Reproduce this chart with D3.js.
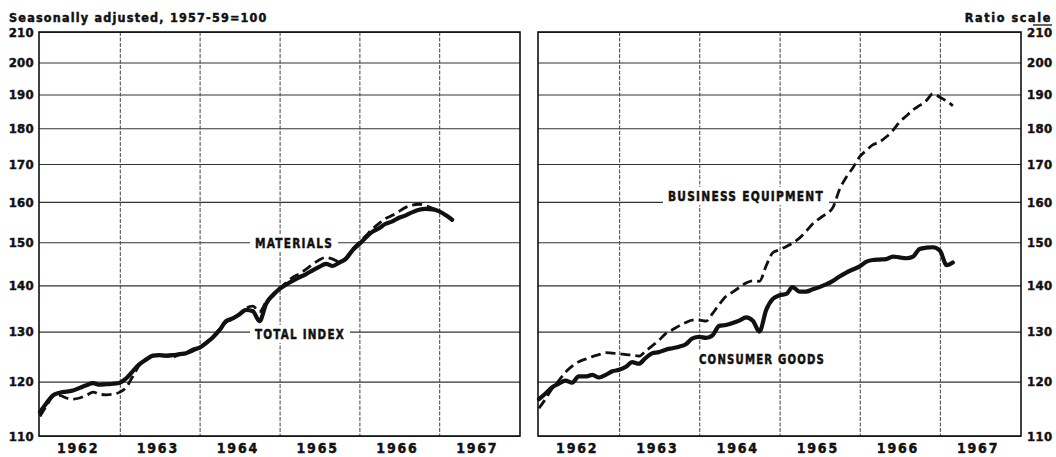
<!DOCTYPE html>
<html>
<head>
<meta charset="utf-8">
<script src="https://cdn.jsdelivr.net/npm/d3@7"></script>
<style>
  body { margin: 0; background: #fff; }
  svg text { font-family: "DejaVu Sans Condensed", "Liberation Sans Narrow", sans-serif; font-weight: bold; fill: #111; stroke: #111; stroke-width: 0.45px; }
</style>
</head>
<body>
<script>
// Monthly, Jan 1962 - Mar 1967, seasonally adjusted, 1957-59=100
const years = [1962, 1963, 1964, 1965, 1966, 1967];
const yTicks = [110, 120, 130, 140, 150, 160, 170, 180, 190, 200, 210];

const totalIndex = [114.3, 116.0, 117.4, 117.9, 118.1, 118.3, 118.8, 119.3, 119.7, 119.4, 119.5, 119.6,
  119.8, 120.7, 122.0, 123.4, 124.3, 125.1, 125.2, 125.1, 125.2, 125.4, 125.6, 126.3,
  126.7, 127.7, 128.8, 130.3, 132.2, 132.8, 133.6, 134.6, 134.3, 132.2, 136.0, 137.8,
  139.2, 140.2, 141.0, 141.8, 142.5, 143.4, 144.2, 144.9, 144.4, 145.2, 146.1, 148.1,
  149.6, 151.2, 152.5, 153.4, 154.5, 155.1, 156.0, 156.6, 157.4, 158.0, 158.2, 158.1,
  157.6, 156.6, 155.5];

const materials = [113.5, 115.5, 117.2, 117.4, 116.9, 116.7, 116.9, 117.4, 118.0, 117.6, 117.5, 117.6,
  118.0, 119.0, 121.0, 123.2, 124.2, 125.0, 125.1, 125.0, 124.8, 125.3, 125.5, 126.0,
  126.8, 127.8, 128.9, 130.5, 132.0, 132.6, 133.8, 135.0, 135.4, 134.2, 136.4, 138.0,
  139.4, 140.6, 141.8, 142.6, 143.6, 144.8, 145.8, 146.4, 146.0, 145.4, 146.4, 148.4,
  150.0, 151.6, 153.2, 154.6, 155.8, 156.6, 157.6, 158.6, 159.2, 159.4, 159.0, 158.4,
  157.6, 156.6, 155.6];

const consumerGoods = [116.7, 117.8, 118.9, 119.6, 120.2, 119.8, 121.0, 121.0, 121.3, 120.8, 121.3, 122.0,
  122.3, 122.9, 123.8, 123.5, 124.6, 125.6, 125.8, 126.3, 126.6, 126.9, 127.4, 128.6,
  128.9, 128.7, 129.2, 131.2, 131.4, 131.8, 132.3, 133.0, 132.3, 130.0, 134.6, 137.0,
  137.8, 138.1, 139.6, 138.6, 138.6, 139.1, 139.6, 140.2, 141.0, 142.0, 142.9, 143.6,
  144.3, 145.4, 145.8, 145.9, 146.0, 146.6, 146.4, 146.2, 146.6, 148.4, 148.7, 148.8,
  148.0, 144.6, 145.2];

const businessEquipment = [115.0, 116.8, 118.6, 120.2, 121.8, 123.0, 123.9, 124.4, 124.9, 125.3, 125.7, 125.6,
  125.5, 125.3, 125.2, 125.0, 126.0, 127.1, 128.2, 129.6, 130.4, 131.2, 131.9, 132.4,
  132.4, 132.2, 133.8, 135.8, 137.5, 138.5, 139.5, 140.5, 141.0, 140.9, 144.5, 147.5,
  148.2, 149.0, 149.8, 151.0, 152.6, 154.5, 155.8, 157.0, 158.6, 163.2, 166.5, 169.0,
  172.0, 173.8, 175.3, 176.1, 177.5, 179.4, 181.8, 183.6, 185.4, 186.7, 188.2, 190.3,
  189.2, 188.0, 186.6];

const months = totalIndex.map((d, i) => new Date(1962, i, 1));

const W = 1056, H = 457;
const plotTop = 32, plotBottom = 436;

const svg = d3.select("body").append("svg")
  .attr("width", W).attr("height", H);

const y = d3.scaleLog().domain([110, 210]).range([plotBottom, plotTop]);

// text above the panels
svg.append("text").attr("x", 9).attr("y", 22)
  .style("font-size", "12.5px").style("letter-spacing", "1.2px")
  .text("Seasonally adjusted, 1957-59=100");
svg.append("text").attr("x", 1052).attr("y", 22).attr("text-anchor", "end")
  .style("font-size", "12.5px").style("letter-spacing", "1.6px")
  .text("Ratio scale");
svg.append("line").attr("x1", 1033).attr("x2", 1052).attr("y1", 25).attr("y2", 25)
  .attr("stroke", "#111").attr("stroke-width", 1.3);

function panel(x0, x1, series, labels, axisSide) {
  const g = svg.append("g");
  const x = d3.scaleTime()
    .domain([new Date(1962, 0, 1), new Date(1968, 0, 1)])
    .range([x0 + 1, x1 - 1]);

  // horizontal grid
  g.append("g")
    .attr("transform", `translate(${x0},0)`)
    .call(d3.axisRight(y).tickValues(yTicks).tickSize(x1 - x0).tickFormat(""))
    .call(a => a.select(".domain").remove())
    .call(a => a.selectAll("line").attr("stroke", "#333").attr("stroke-width", 1.1));

  // vertical grid at year starts
  g.append("g")
    .attr("transform", `translate(0,${plotTop})`)
    .call(d3.axisBottom(x).tickValues(years.slice(1).map(yr => new Date(yr, 0, 1)))
      .tickSize(plotBottom - plotTop).tickFormat(""))
    .call(a => a.select(".domain").remove())
    .call(a => a.selectAll("line").attr("stroke", "#444").attr("stroke-width", 1)
      .attr("stroke-dasharray", "4,1.5"));

  // white boxes behind labels
  labels.forEach(l => {
    g.append("rect")
      .attr("x", l.x - 5).attr("y", l.y - 9)
      .attr("width", l.w + 10).attr("height", 18)
      .attr("fill", "#fff");
  });

  // frame
  g.append("rect")
    .attr("x", x0).attr("y", plotTop).attr("width", x1 - x0).attr("height", plotBottom - plotTop)
    .attr("fill", "none").attr("stroke", "#111").attr("stroke-width", 1.6);

  const line = d3.line()
    .x((d, i) => x(months[i]))
    .y(d => y(d))
    .curve(d3.curveMonotoneX);

  series.forEach(s => {
    g.append("path")
      .attr("d", line(s.values))
      .attr("fill", "none")
      .attr("stroke", "#111")
      .attr("stroke-width", s.dashed ? 2.8 : 4.2)
      .attr("stroke-linejoin", "round")
      .attr("stroke-linecap", s.dashed ? "butt" : "round")
      .attr("stroke-dasharray", s.dashed ? "10,5" : null);
  });

  labels.forEach(l => {
    g.append("text")
      .attr("x", l.x).attr("y", l.y).attr("dy", "0.36em")
      .style("font-size", "13.5px").style("letter-spacing", "1.4px")
      .attr("textLength", l.w).attr("lengthAdjust", "spacingAndGlyphs")
      .text(l.text);
  });

  // year labels under the panel
  g.append("g")
    .attr("transform", `translate(-2,${plotBottom})`)
    .call(d3.axisBottom(x).tickValues(years.map(yr => new Date(yr, 6, 1)))
      .tickSize(0).tickPadding(7).tickFormat(d3.timeFormat("%Y")))
    .call(a => a.select(".domain").remove())
    .call(a => a.selectAll("text")
      .style("font-size", "14px").style("letter-spacing", "1.8px")
      .style("font-family", null).style("font-weight", null));

  // value labels
  const ax = axisSide === "left"
    ? d3.axisLeft(y).tickValues(yTicks).tickSize(0).tickPadding(5).tickFormat(d3.format("d"))
    : d3.axisRight(y).tickValues(yTicks).tickSize(0).tickPadding(6).tickFormat(d3.format("d"));
  g.append("g")
    .attr("transform", `translate(${axisSide === "left" ? x0 : x1},0)`)
    .call(ax)
    .call(a => a.select(".domain").remove())
    .call(a => a.selectAll("text")
      .style("font-size", "13px").style("letter-spacing", "0.3px")
      .style("font-family", null).style("font-weight", null));
}

panel(39, 520,
  [{ values: materials, dashed: true }, { values: totalIndex, dashed: false }],
  [{ text: "MATERIALS", x: 255, y: 243, w: 78 },
   { text: "TOTAL INDEX", x: 255, y: 334, w: 90 }],
  "left");

panel(538, 1021,
  [{ values: businessEquipment, dashed: true }, { values: consumerGoods, dashed: false }],
  [{ text: "BUSINESS EQUIPMENT", x: 668, y: 196, w: 156 },
   { text: "CONSUMER GOODS", x: 699, y: 359, w: 126 }],
  "right");
</script>
</body>
</html>
